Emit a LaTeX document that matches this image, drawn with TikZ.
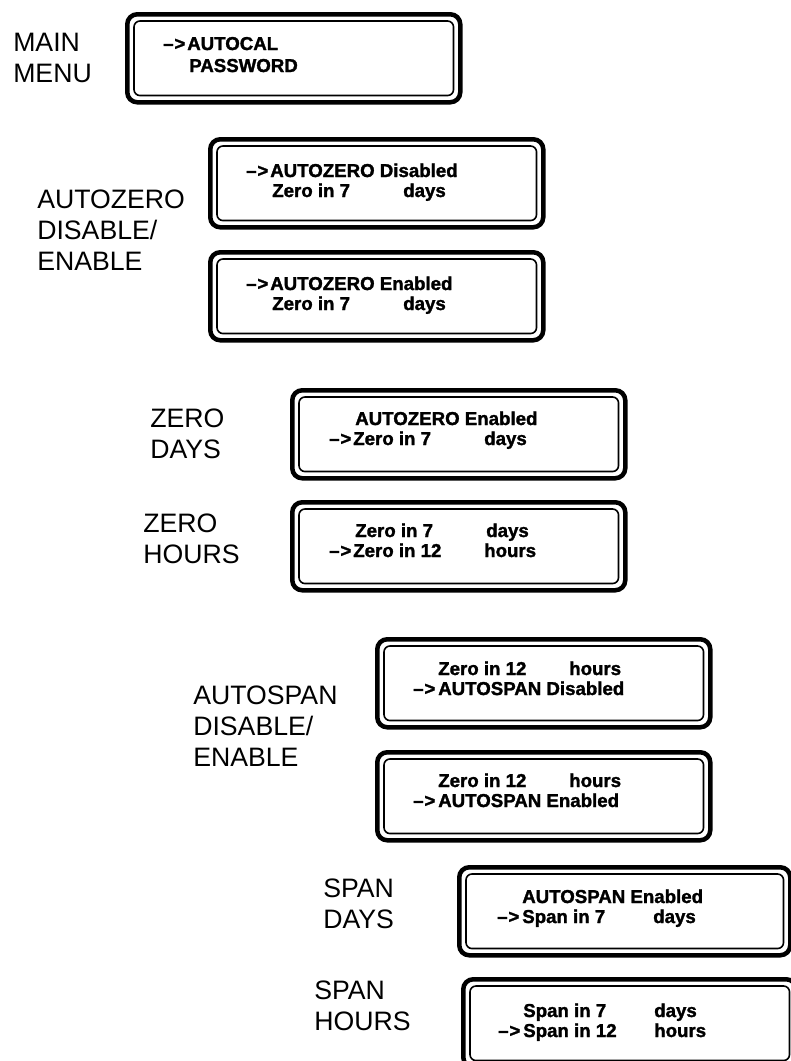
\documentclass[tikz,border=0pt]{standalone}
\usepackage{fontspec}
\setmainfont{Liberation Sans}[BoldFeatures={FakeBold=1.6}]
\usetikzlibrary{positioning}

\tikzset{
    screen/.style={draw, line width=3.4pt, rounded corners=7.5pt, anchor=north west,
        minimum width=249.75pt, minimum height=66pt, inner sep=0pt},
    lcdline/.style={line width=1.2pt, rounded corners=4.5pt},
    lcd/.style={anchor=base west, inner sep=0pt, font=\fontsize{14}{16}\selectfont\bfseries},
    lab/.style={anchor=base west, inner sep=0pt, align=left, font=\fontsize{20}{23}\selectfont}
}
\newcommand{\col}[1]{\makebox[98.25pt][l]{#1}}
\newcommand{\arr}{--\kern0.6pt>}

\begin{document}
\begin{tikzpicture}[x=0.75pt,y=-0.75pt]
    \useasboundingbox (0,0) rectangle (790,1061);
    % screens
    \node[screen] (main)  at (125,12) {};
    \node[screen] (azdis) at (208,137) {};
    \node[screen] (azen)  at (208,250) {};
    \node[screen] (zdays) at (290,388) {};
    \node[screen] (zhrs)  at (290,500) {};
    \node[screen] (asdis) at (375,637) {};
    \node[screen] (asen)  at (375,750) {};
    \node[screen, minimum width=248.25pt] (sdays) at (457,865) {};
    \node[screen] (shrs)  at (461,977) {};
    \foreach \s in {main,azdis,azen,zdays,zhrs,asdis,asen,sdays,shrs}
        {\draw[lcdline] ([shift={(9,9)}]\s.north west) rectangle ([shift={(-9,-9)}]\s.south east);}
    % labels (base = last line)
    \node[lab] (mainlab) at (13,82)   {MAIN\\MENU};
    \node[lab] (azlab)   at (37,270)  {AUTOZERO\\DISABLE/\\ENABLE};
    \node[lab] (zdlab)   at (150,458) {ZERO\\DAYS};
    \node[lab] (zhlab)   at (143,563) {ZERO\\HOURS};
    \node[lab] (aslab)   at (193,766) {AUTOSPAN\\DISABLE/\\ENABLE};
    \node[lab] (sdlab)   at (323,928) {SPAN\\DAYS};
    \node[lab] (shlab)   at (314,1030) {SPAN\\HOURS};
    % screen texts
    \node[lcd] (main-a)  at ([shift={(38,38)}]main.north west) {\arr};
    \node[lcd] (main-1)  at ([shift={(62,38)}]main.north west) {AUTOCAL};
    \node[lcd] (main-2)  at ([shift={(64,60)}]main.north west) {PASSWORD};
    \node[lcd] (azdis-a) at ([shift={(38,40)}]azdis.north west) {\arr};
    \node[lcd] (azdis-1) at ([shift={(62,40)}]azdis.north west) {AUTOZERO Disabled};
    \node[lcd] (azdis-2) at ([shift={(64,60)}]azdis.north west) {\col{Zero in 7}days};
    \node[lcd] (azen-a)  at ([shift={(38,40)}]azen.north west) {\arr};
    \node[lcd] (azen-1)  at ([shift={(62,40)}]azen.north west) {AUTOZERO Enabled};
    \node[lcd] (azen-2)  at ([shift={(64,60)}]azen.north west) {\col{Zero in 7}days};
    \node[lcd] (zdays-1) at ([shift={(65,37)}]zdays.north west) {AUTOZERO Enabled};
    \node[lcd] (zdays-a) at ([shift={(39,57)}]zdays.north west) {\arr};
    \node[lcd] (zdays-2) at ([shift={(63,57)}]zdays.north west) {\col{Zero in 7}days};
    \node[lcd] (zhrs-1)  at ([shift={(65,37)}]zhrs.north west) {\col{Zero in 7}days};
    \node[lcd] (zhrs-a)  at ([shift={(39,57)}]zhrs.north west) {\arr};
    \node[lcd] (zhrs-2)  at ([shift={(63,57)}]zhrs.north west) {\col{Zero in 12}hours};
    \node[lcd] (asdis-1) at ([shift={(63,38)}]asdis.north west) {\col{Zero in 12}hours};
    \node[lcd] (asdis-a) at ([shift={(38,58)}]asdis.north west) {\arr};
    \node[lcd] (asdis-2) at ([shift={(63,58)}]asdis.north west) {AUTOSPAN Disabled};
    \node[lcd] (asen-1)  at ([shift={(63,37)}]asen.north west) {\col{Zero in 12}hours};
    \node[lcd] (asen-a)  at ([shift={(38,57)}]asen.north west) {\arr};
    \node[lcd] (asen-2)  at ([shift={(63,57)}]asen.north west) {AUTOSPAN Enabled};
    \node[lcd] (sdays-1) at ([shift={(65,38)}]sdays.north west) {AUTOSPAN Enabled};
    \node[lcd] (sdays-a) at ([shift={(40,58)}]sdays.north west) {\arr};
    \node[lcd] (sdays-2) at ([shift={(65,58)}]sdays.north west) {\col{Span in 7}days};
    \node[lcd] (shrs-1)  at ([shift={(62,40)}]shrs.north west) {\col{Span in 7}days};
    \node[lcd] (shrs-a)  at ([shift={(37,60)}]shrs.north west) {\arr};
    \node[lcd] (shrs-2)  at ([shift={(62,60)}]shrs.north west) {\col{Span in 12}hours};
\end{tikzpicture}
\end{document}
